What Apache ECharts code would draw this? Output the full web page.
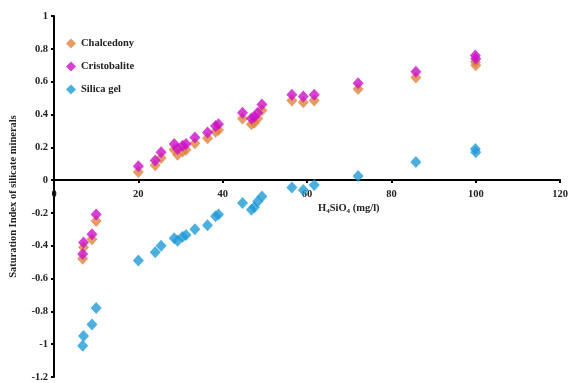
<!DOCTYPE html>
<html>
<head>
<meta charset="utf-8">
<script src="https://cdn.jsdelivr.net/npm/echarts@6/dist/echarts.min.js"></script>
<style>html,body{margin:0;padding:0;background:#fff}#c{width:571px;height:383px}</style>
</head>
<body>
<div id="c"></div>
<script>
var seriesNames = ['Chalcedony', 'Cristobalite', 'Silica gel'];
var h4sio4 = [6.8, 7.0, 9.0, 10.0, 20.0, 24.0, 25.4, 28.5, 29.3, 30.5, 31.3, 33.4, 36.4, 38.3, 39.0, 44.7, 46.8, 47.5, 48.3, 49.3, 56.4, 59.1, 61.7, 72.1, 85.8, 99.9, 100.0];
var chalcedony = [-0.48, -0.41, -0.36, -0.25, 0.05, 0.09, 0.135, 0.185, 0.155, 0.175, 0.185, 0.225, 0.255, 0.295, 0.305, 0.375, 0.34, 0.35, 0.375, 0.425, 0.485, 0.475, 0.485, 0.555, 0.625, 0.72, 0.70];
var cristobalite = [-0.45, -0.38, -0.33, -0.21, 0.085, 0.12, 0.17, 0.22, 0.19, 0.21, 0.22, 0.26, 0.29, 0.33, 0.34, 0.41, 0.375, 0.385, 0.41, 0.46, 0.52, 0.51, 0.52, 0.59, 0.66, 0.76, 0.74];
var silicaGel = [-1.01, -0.95, -0.88, -0.78, -0.49, -0.44, -0.40, -0.355, -0.37, -0.345, -0.335, -0.30, -0.275, -0.22, -0.21, -0.14, -0.18, -0.165, -0.13, -0.10, -0.045, -0.06, -0.03, 0.025, 0.11, 0.19, 0.17];
var xTicks = [0, 20, 40, 60, 80, 100, 120];
var yTicks = [-1.2, -1, -0.8, -0.6, -0.4, -0.2, 0, 0.2, 0.4, 0.6, 0.8, 1];

function pairs(ys) { return h4sio4.map(function (x, i) { return [x, ys[i]]; }); }
var colors = ['#E0823F', '#CC10C8', '#1F9BD8'];
var font = 'Liberation Serif';
var gridTop = 16, gridBottom = 6, H = 383;
var plotH = H - gridTop - gridBottom;
var yMin = yTicks[0], yMax = yTicks[yTicks.length - 1];
var zeroOffset = -plotH * (0 - yMin) / (yMax - yMin);
var chart = echarts.init(document.getElementById('c'));
chart.setOption({
  animation: false,
  grid: { left: 51, right: 9, top: gridTop, bottom: gridBottom },
  legend: {
    orient: 'vertical', left: 61, top: 33, itemGap: 12, itemWidth: 10, itemHeight: 10,
    textStyle: { fontFamily: font, fontWeight: 'bold', fontSize: 10.5, color: '#222' },
    data: seriesNames.map(function (n) { return { name: n, icon: 'diamond' }; })
  },
  xAxis: {
    type: 'value', min: xTicks[0], max: xTicks[xTicks.length - 1], interval: 20,
    offset: zeroOffset,
    axisLine: { onZero: false, lineStyle: { color: '#000', width: 2 } },
    axisTick: { show: true, length: 3, lineStyle: { color: '#000', width: 2 } },
    axisLabel: { fontFamily: font, fontWeight: 'bold', fontSize: 10.5, color: '#222', margin: 9 },
    splitLine: { show: false }
  },
  yAxis: {
    type: 'value', min: yMin, max: yMax, interval: 0.2,
    name: 'Saturation Index of silicate minerals', nameLocation: 'middle', nameGap: 35,
    nameTextStyle: { fontFamily: font, fontWeight: 'bold', fontSize: 10.5, color: '#222' },
    axisLine: { lineStyle: { color: '#000', width: 2 } },
    axisTick: { show: true, length: 3, lineStyle: { color: '#000', width: 2 } },
    axisLabel: { fontFamily: font, fontWeight: 'bold', fontSize: 10.5, color: '#222', margin: 6,
      formatter: function (v) { return String(Math.round(v * 10) / 10); } },
    splitLine: { show: false }
  },
  graphic: [{
    type: 'text', left: 318, top: 203,
    style: {
      text: 'H{s|4}SiO{s|4} (mg/l)',
      font: 'bold 10.5px "Liberation Serif"', fill: '#222',
      rich: { s: { fontSize: 7, fontWeight: 'bold', fontFamily: font, padding: [5, 0, 0, 0], fill: '#222' } }
    }
  }],
  series: [
    { name: seriesNames[0], type: 'scatter', symbol: 'diamond', symbolSize: [11, 12], itemStyle: { color: colors[0] }, data: pairs(chalcedony), z: 2 },
    { name: seriesNames[1], type: 'scatter', symbol: 'diamond', symbolSize: [11, 12], itemStyle: { color: colors[1] }, data: pairs(cristobalite), z: 3 },
    { name: seriesNames[2], type: 'scatter', symbol: 'diamond', symbolSize: [11, 12], itemStyle: { color: colors[2] }, data: pairs(silicaGel), z: 3 }
  ]
});
</script>
</body>
</html>
